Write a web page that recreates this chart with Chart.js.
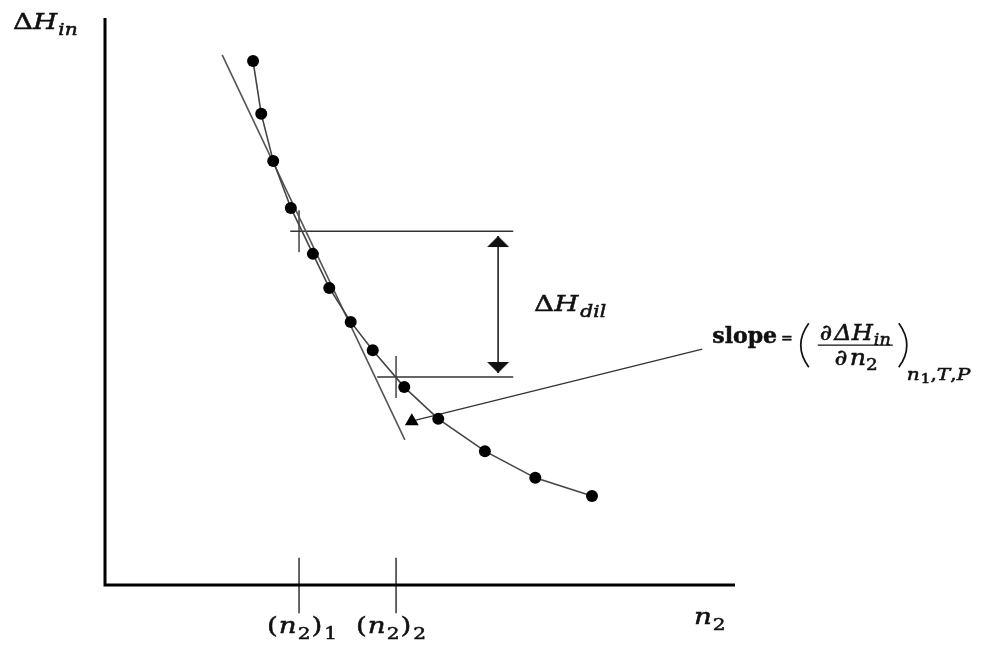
<!DOCTYPE html>
<html>
<head>
<meta charset="utf-8">
<title>Integral enthalpy of solution vs n2</title>
<script src="https://cdn.jsdelivr.net/npm/chart.js@4.4.1/dist/chart.umd.min.js"></script>
<style>
  html, body { margin: 0; padding: 0; background: #fff; }
  #wrap { width: 981px; height: 657px; position: relative; }
</style>
</head>
<body>
<div id="wrap"><canvas id="chart"></canvas></div>
<script>
// measured points on the ΔH_in curve (arbitrary units, both axes 0..10)
const n2Values = [2.35, 2.48, 2.67, 2.95, 3.30, 3.56, 3.90, 4.25, 4.75, 5.29, 6.03, 6.83, 7.73];
const dHinValues = [9.24, 8.31, 7.48, 6.65, 5.84, 5.24, 4.64, 4.14, 3.49, 2.93, 2.36, 1.89, 1.57];

// tangent line through (n2)2
const tangentN2 = [1.86, 4.76];
const tangentDH = [9.35, 2.56];

// the two compositions (n2)1 and (n2)2 and their ΔH levels
const n2Marks = [3.08, 4.62];
const markLabels = ['1', '2'];
const dHLevels = [6.24, 3.67];
const levelStartN2 = [2.94, 4.32];
const levelEndN2 = 6.48;

// ΔH_dil arrow
const arrowN2 = 6.24;
const arrowTips = [6.155, 3.739];

// slope pointer
const slopeFromN2 = 4.87, slopeFromDH = 2.89;
const slopeToN2 = 9.48, slopeToDH = 4.16;

const SERIF = '"DejaVu Serif", serif';

function arrowHead(up) {
    const c = document.createElement('canvas');
    c.width = 24; c.height = 24;
    const g = c.getContext('2d');
    g.fillStyle = '#111';
    g.beginPath();
    if (up) { g.moveTo(12, 12); g.lineTo(23, 23); g.lineTo(1, 23); }
    else { g.moveTo(12, 12); g.lineTo(23, 1); g.lineTo(1, 1); }
    g.closePath();
    g.fill();
    return c;
}

function seg(xs, ys) {
    return xs.map((x, i) => ({ x: x, y: ys[i] }));
}

function lineSet(data, color, width, extra) {
    return Object.assign({
        data: data,
        showLine: true,
        borderColor: color,
        borderWidth: width,
        pointRadius: 0,
        pointHoverRadius: 0,
        fill: false,
        tension: 0
    }, extra || {});
}

// draws runs of [text, font, dy, gapAfter], stretched horizontally by sx
function drawRuns(ctx, x, y, runs, sx) {
    sx = sx || 1;
    runs.forEach(r => {
        ctx.font = r[1];
        ctx.save();
        ctx.translate(x, y + (r[2] || 0));
        ctx.scale(sx, 1);
        ctx.lineWidth = 0.5;
        ctx.strokeStyle = '#111';
        ctx.fillText(r[0], 0, 0);
        ctx.strokeText(r[0], 0, 0);
        ctx.restore();
        x += ctx.measureText(r[0]).width * sx + (r[3] || 0);
    });
    return x;
}

const main = '22px ' + SERIF;
const ital = 'italic 22px ' + SERIF;
const sub = '16px ' + SERIF;
const italSub = 'italic 16px ' + SERIF;
const STRETCH = 1.26;

const labelsPlugin = {
    id: 'labels',
    afterDraw(chart) {
        const ctx = chart.ctx;
        const xs = chart.scales.x, ys = chart.scales.y;
        ctx.save();
        ctx.fillStyle = '#111';
        ctx.textBaseline = 'alphabetic';

        // axis titles
        drawRuns(ctx, 13, 29, [['Δ', main], ['H', ital, 0, 1], ['in', italSub, 6]], STRETCH);
        drawRuns(ctx, 694, 624, [['n', ital, 0, 1], ['2', sub, 6]], STRETCH);

        // (n2)1, (n2)2 under the ticks
        const offs = [-32, -40];
        n2Marks.forEach((v, i) => {
            const px = xs.getPixelForValue(v) + offs[i];
            drawRuns(ctx, px, 633, [['(', main, 0, 1], ['n', ital, 0, 1], ['2', sub, 6, 1], [')', main, 0, 2], [markLabels[i], sub, 6]], STRETCH);
        });

        // ΔH_dil next to the arrow
        const ax = xs.getPixelForValue(arrowN2);
        const ay = ys.getPixelForValue((dHLevels[0] + dHLevels[1]) / 2);
        drawRuns(ctx, ax + 36, ay + 7, [['Δ', main], ['H', ital, 0, 2], ['dil', italSub, 6]], STRETCH);

        // slope = (∂ΔH_in / ∂n2)_{n1,T,P}
        const sx = xs.getPixelForValue(slopeToN2) + 10;
        const sy = ys.getPixelForValue(slopeToDH) - 6;
        let x = drawRuns(ctx, sx, sy, [['slope', 'bold 22px ' + SERIF]]);
        x = drawRuns(ctx, x + 4, sy, [['=', '14px ' + SERIF]]);
        ctx.strokeStyle = '#111';
        ctx.lineWidth = 1.7;
        const pl = x + 4;
        ctx.beginPath();
        ctx.moveTo(pl + 12, sy - 20);
        ctx.quadraticCurveTo(pl - 4, sy + 2, pl + 12, sy + 24);
        ctx.stroke();
        const fx = pl + 21;
        const numEnd = drawRuns(ctx, fx + 2, sy - 3, [['∂', ital, 0, 2], ['ΔH', ital, 0, 1], ['in', italSub, 5]], 1.1);
        ctx.lineWidth = 1.2;
        ctx.beginPath();
        ctx.moveTo(fx, sy + 2);
        ctx.lineTo(numEnd + 2, sy + 2);
        ctx.stroke();
        ctx.font = ital;
        const denW = ctx.measureText('∂n').width * 1.15 + 12;
        drawRuns(ctx, fx + (numEnd + 2 - fx - denW) / 2, sy + 22, [['∂', ital, 0, 2], ['n', ital], ['2', sub, 5]], 1.15);
        const pr = numEnd + 8;
        ctx.lineWidth = 1.7;
        ctx.beginPath();
        ctx.moveTo(pr, sy - 20);
        ctx.quadraticCurveTo(pr + 16, sy + 2, pr, sy + 24);
        ctx.stroke();
        drawRuns(ctx, pr + 8, sy + 37, [['n', italSub, 0, 1], ['1', '12px ' + SERIF, 3], [',', sub], ['T', italSub], [',', sub], ['P', italSub]], 1.26);
        ctx.restore();
    }
};

const datasets = [
    // axes
    lineSet([{ x: 0, y: 10 }, { x: 0, y: 0 }, { x: 10, y: 0 }], '#000', 3, { clip: false, borderJoinStyle: 'miter' }),
    // measured curve
    lineSet(seg(n2Values, dHinValues), '#444', 1.6, {
        pointRadius: 6,
        pointBackgroundColor: '#000',
        pointBorderColor: '#000',
        pointBorderWidth: 0
    }),
    // tangent
    lineSet(seg(tangentN2, tangentDH), '#555', 1.6),
    // slope pointer with triangle marker
    lineSet([{ x: slopeFromN2, y: slopeFromDH }, { x: slopeToN2, y: slopeToDH }], '#333', 1.4, {
        pointStyle: 'triangle',
        pointRadius: [8, 0],
        pointBackgroundColor: '#000',
        pointBorderColor: '#000',
        pointBorderWidth: 0
    }),
    // ΔH_dil arrow
    lineSet([{ x: arrowN2, y: arrowTips[0] }, { x: arrowN2, y: arrowTips[1] }], '#222', 1.6, {
        pointStyle: [arrowHead(true), arrowHead(false)],
        pointRadius: 12
    })
];

// horizontal level lines and their small vertical ticks
dHLevels.forEach((lv, i) => {
    datasets.push(lineSet([{ x: levelStartN2[i], y: lv }, { x: levelEndN2, y: lv }], '#333', 1.5));
    datasets.push(lineSet([{ x: n2Marks[i], y: lv + 0.37 }, { x: n2Marks[i], y: lv - 0.37 }], '#444', 1.5));
});

// tick marks on the n2 axis
n2Marks.forEach(v => {
    datasets.push(lineSet([{ x: v, y: 0.48 }, { x: v, y: -0.5 }], '#333', 1.5, { clip: false }));
});

new Chart(document.getElementById('chart'), {
    type: 'scatter',
    data: { datasets: datasets },
    options: {
        responsive: true,
        maintainAspectRatio: false,
        animation: false,
        events: [],
        layout: { padding: { left: 105, right: 246, top: 18, bottom: 72 } },
        plugins: {
            legend: { display: false },
            tooltip: { enabled: false }
        },
        scales: {
            x: { type: 'linear', min: 0, max: 10, display: false },
            y: { type: 'linear', min: 0, max: 10, display: false }
        }
    },
    plugins: [labelsPlugin]
});
</script>
</body>
</html>
